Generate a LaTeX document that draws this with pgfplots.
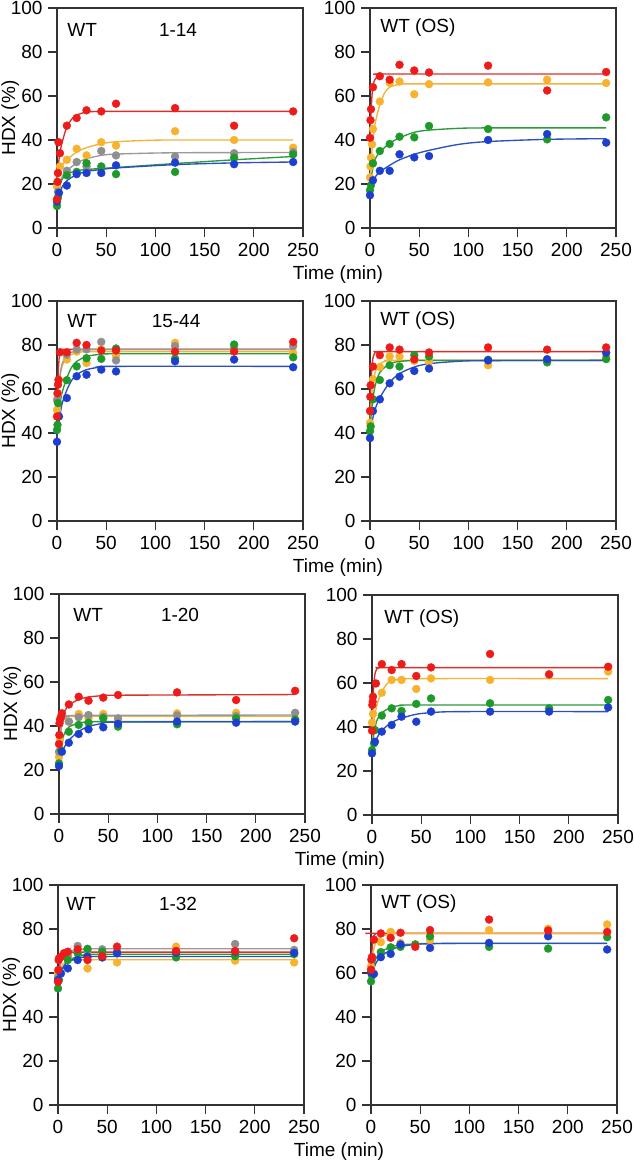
\documentclass[border=0pt]{standalone}
\usepackage{fontspec}
\setmainfont{Liberation Sans}
\usepackage{pgfplots}
\pgfplotsset{compat=1.18}

\definecolor{cR}{HTML}{EE1B1B}
\definecolor{cO}{HTML}{F7B22E}
\definecolor{cG}{HTML}{8F8F8F}
\definecolor{cGr}{HTML}{1E9A2B}
\definecolor{cB}{HTML}{1D3FCF}
\definecolor{lR}{HTML}{D8312B}
\definecolor{lO}{HTML}{F2B43A}
\definecolor{lG}{HTML}{9A9A9A}
\definecolor{lGr}{HTML}{2A9A3A}
\definecolor{lB}{HTML}{2D50C0}

\newcommand\fs{\fontsize{19}{22}\selectfont}

\pgfplotsset{
  hdx/.style={scale only axis, width=246pt, height=220pt,
    anchor=south west,
    xmin=0, xmax=250, ymin=0, ymax=100,
    xtick={0,50,...,250}, ytick={0,20,...,100},
    tick align=outside, tick pos=left, major tick length=9pt,
    axis line style={line width=1.1pt, black!80},
    every tick/.style={line width=1.1pt, black!80},
    tick label style={font=\fs},
    /pgf/number format/assume math mode=true,
    xticklabel style={yshift=-3pt}, yticklabel style={xshift=-2pt},
    clip=false},
  hdxleft/.style={hdx, ylabel={HDX (\%)},
    ylabel style={font=\fs, at={(rel axis cs:-0.19,0.5)}, anchor=center, rotate=0},
    xlabel={Time (min)},
    xlabel style={font=\fs, at={(rel axis cs:1.142,-0.155)}, anchor=north}},
  dots/.style={only marks, mark=*, mark size=4pt, color=#1,
    mark options={solid, draw=#1, fill=#1, line width=0.3pt}},
  fit/.style={no markers, smooth, tension=0.5, line width=1.35pt, color=#1},
}

\begin{document}
\begin{tikzpicture}
\useasboundingbox (0,0) rectangle (633pt,-1167pt);

% ---------------- Row 1 left: WT 1-14
\begin{axis}[hdxleft, at={(57pt,-228pt)}]
\addplot[fit=lR] coordinates {(0,20) (1,27) (2,31) (3,34) (5,38.5) (10,46) (15,49.5) (20,51.3) (30,52.7) (45,53) (60,53) (240,53)};
\addplot[fit=lO] coordinates {(0,22) (2,26) (5,28.5) (10,31) (20,34.5) (30,36.5) (45,38.3) (60,39.2) (90,39.8) (120,40) (240,40)};
\addplot[fit=lG] coordinates {(0,13) (2,19) (5,23) (10,26) (20,29.5) (30,31.5) (45,33) (60,33.6) (120,34.2) (240,34.3)};
\addplot[fit=lGr] coordinates {(0,10) (2,17) (5,22) (10,24.5) (20,26) (30,26.6) (60,27.5) (120,29.3) (180,31) (240,32.5)};
\addplot[fit=lB] coordinates {(0,12) (2,15) (5,18.5) (10,21.5) (20,24.3) (30,25.7) (45,26.6) (60,27.3) (120,28.8) (180,29.6) (240,30)};
\addplot[dots=cO] coordinates {(0,19) (1,25) (3,28) (10,31) (20,36) (30,33) (45,39) (60,37.5) (120,44) (180,40) (240,36.5)};
\addplot[dots=cG] coordinates {(0,13) (1,16.5) (10,26) (20,30) (30,28) (45,35) (60,33) (120,32.5) (180,34) (240,34.5)};
\addplot[dots=cGr] coordinates {(0,10) (1,14) (10,24) (20,25.5) (30,29.5) (45,28) (60,24.5) (120,25.5) (180,32) (240,33.5)};
\addplot[dots=cB] coordinates {(0,12) (2,16) (10,19.3) (20,24.5) (30,25) (45,25) (60,28.5) (120,29.7) (180,29) (240,30)};
\addplot[dots=cR] coordinates {(0,13) (0.5,21) (1,25) (1.5,39) (3,34) (10,46.5) (20,50) (30,53.5) (45,53) (60,56.5) (120,54.5) (180,46.5) (240,53)};
\node[font=\fs, anchor=west] at (axis cs:7,90) {WT};
\node[font=\fs] at (axis cs:123,90) {1-14};
\end{axis}

% ---------------- Row 1 right: WT (OS)
\begin{axis}[hdx, at={(370pt,-228pt)}]
\addplot[fit=lR] coordinates {(0,40) (1,52) (2,60) (3,64.5) (5,67.5) (10,69.6) (20,70) (240,70)};
\addplot[fit=lO] coordinates {(0,22) (2,35) (5,47) (10,56) (15,61.5) (20,64) (30,65.3) (45,65.5) (240,65.5)};
\addplot[fit=lGr] coordinates {(0,17) (2,25) (5,31) (10,34.5) (20,38.5) (30,41) (45,43.5) (60,44.5) (90,45.3) (120,45.5) (240,45.5)};
\addplot[fit=lB] coordinates {(0,15) (2,20) (5,23) (10,25.5) (20,28.5) (30,31) (45,33.5) (60,35.3) (90,38) (120,39.3) (180,40.3) (240,40.6)};
\addplot[dots=cO] coordinates {(0,23) (0.5,28) (1,32) (2,38) (3,45) (10,57.5) (20,66) (30,66.6) (45,60.8) (60,65.4) (120,66.2) (180,67.4) (240,65.9)};
\addplot[dots=cGr] coordinates {(0,17.2) (1,19.5) (3,29.4) (10,35) (20,38.2) (30,41.5) (45,41.2) (60,46.4) (120,45) (180,40.3) (240,50.3)};
\addplot[dots=cB] coordinates {(0,14.9) (3,21.7) (10,26) (20,26) (30,33.5) (45,32.1) (60,32.7) (120,40) (180,42.7) (240,38.8)};
\addplot[dots=cR] coordinates {(0,41) (0.5,49) (1,54) (3,64) (10,69) (20,67.4) (30,74.2) (45,71.6) (60,70.7) (120,73.8) (180,62.5) (240,70.9)};
\node[font=\fs, anchor=west] at (axis cs:7,91) {WT (OS)};
\end{axis}

% ---------------- Row 2 left: WT 15-44
\begin{axis}[hdxleft, at={(57pt,-521pt)}]
\addplot[fit=lR] coordinates {(0,47) (0.5,58) (1,65) (2,73) (3,76.5) (5,77.8) (10,78) (20,78) (240,78)};
\addplot[fit=lO] coordinates {(0,50) (2,62) (5,70) (10,74.5) (20,76.5) (30,77) (45,77) (240,77)};
\addplot[fit=lG] coordinates {(0,52) (2,63) (5,71) (10,75.5) (20,77.5) (30,78) (45,78) (240,78)};
\addplot[fit=lGr] coordinates {(0,42) (2,50) (5,58) (10,65) (15,70) (20,72.5) (30,74.8) (45,75.8) (60,76) (240,76)};
\addplot[fit=lB] coordinates {(0,38) (2,45) (5,53) (10,59.5) (15,64) (20,66.5) (30,68.8) (45,70) (60,70.3) (240,70.3)};
\addplot[dots=cO] coordinates {(0,50.5) (1,58) (2,64) (10,73.4) (20,77) (30,71.8) (45,78) (60,75) (120,81) (180,78) (240,76.4)};
\addplot[dots=cG] coordinates {(0,55) (10,75.6) (20,78) (30,78) (45,81.4) (60,73) (120,79.5) (180,78.5) (240,79.5)};
\addplot[dots=cGr] coordinates {(0,41.4) (0.5,43.7) (1,53.6) (10,64) (20,70.3) (30,74) (45,73.7) (60,78.4) (120,73.8) (180,80.2) (240,74.4)};
\addplot[dots=cB] coordinates {(0,36) (2,47.5) (10,55.9) (20,65.8) (30,66.5) (45,68.8) (60,68) (120,72.6) (180,73.4) (240,69.9)};
\addplot[dots=cR] coordinates {(0,47.5) (0.5,58) (1,62) (1.5,64.2) (3,76.7) (10,76.7) (20,81) (30,80) (45,77.5) (60,77.5) (120,77) (180,77) (240,81.4)};
\node[font=\fs, anchor=west] at (axis cs:7,91) {WT};
\node[font=\fs] at (axis cs:121,91) {15-44};
\end{axis}

% ---------------- Row 2 right: WT (OS)
\begin{axis}[hdx, at={(370pt,-521pt)}]
\addplot[fit=lR] coordinates {(0,48) (1,62) (2,70) (3,74) (5,76.5) (10,77) (20,77) (240,77)};
\addplot[fit=lO] coordinates {(0,45) (2,58) (5,67) (10,71.5) (20,73) (30,73) (240,73)};
\addplot[fit=lGr] coordinates {(0,42) (2,52) (5,61) (10,67.5) (20,71.5) (30,72.5) (45,73) (60,73) (240,73)};
\addplot[fit=lB] coordinates {(0,40) (2,45) (5,50.5) (10,56) (20,63) (30,67) (45,70) (60,71.5) (90,72.6) (120,72.9) (240,73)};
\addplot[dots=cO] coordinates {(0,44.6) (0.7,50) (3,64.4) (10,70) (20,74.8) (30,74.8) (45,72.8) (60,72.4) (120,70.8) (180,73.6) (240,74.8)};
\addplot[dots=cGr] coordinates {(0,40.8) (0.7,43) (3,55.3) (10,64.1) (20,70.8) (30,70.2) (45,75.4) (60,74.8) (120,73.3) (180,72.1) (240,73.6)};
\addplot[dots=cB] coordinates {(0,37.7) (3,50) (10,55.3) (20,62.6) (30,65.6) (45,68.2) (60,69.3) (120,73) (180,73.5) (240,76.5)};
\addplot[dots=cR] coordinates {(0,50) (0.3,56.5) (0.7,61.7) (3,70.2) (10,75.4) (20,78.9) (30,77.9) (45,73.5) (60,76.6) (120,78.9) (180,77.9) (240,78.9)};
\node[font=\fs, anchor=west] at (axis cs:7,91) {WT (OS)};
\end{axis}

% ---------------- Row 3 left: WT 1-20
\begin{axis}[hdxleft, at={(59pt,-814pt)}]
\addplot[fit=lR] coordinates {(0,30) (1,39) (2,42.5) (5,46) (10,49.5) (20,52) (30,53.2) (45,53.8) (60,54) (240,54.3)};
\addplot[fit=lO] coordinates {(0,25) (2,37) (3,40.5) (5,43.3) (7,44.2) (10,44.5) (20,44.5) (240,44.5)};
\addplot[fit=lG] coordinates {(0,28) (2,38) (5,43) (10,44.5) (20,44.8) (240,45)};
\addplot[fit=lGr] coordinates {(0,23) (2,30) (5,36) (10,39.5) (20,41.3) (30,42) (45,42) (240,42)};
\addplot[fit=lB] coordinates {(0,22) (2,26) (5,30) (10,33.5) (20,37.5) (30,39.8) (45,41.2) (60,41.8) (240,42)};
\addplot[dots=cO] coordinates {(0,26) (1,33.6) (10,42) (20,45.5) (30,43.5) (45,45.5) (60,43) (120,45.8) (180,46) (240,42.4)};
\addplot[dots=cG] coordinates {(0,28.3) (10,42) (20,44) (30,45) (45,44.2) (60,43.5) (120,44.8) (180,44.5) (240,46)};
\addplot[dots=cGr] coordinates {(0,23) (2,29) (10,37.4) (20,40.5) (30,41.5) (45,43.5) (60,39.7) (120,40.8) (180,43.5) (240,43)};
\addplot[dots=cB] coordinates {(0,21.8) (3,28.3) (10,32.4) (20,36.4) (30,38.5) (45,39.4) (60,41) (120,42) (180,41.5) (240,42)};
\addplot[dots=cR] coordinates {(0,31.8) (0.3,35.9) (0.5,41.2) (1,43) (2,44.2) (3,45.8) (10,49.8) (20,53.3) (30,51.5) (45,52.9) (60,54.1) (120,55.3) (180,51.8) (240,56)};
\node[font=\fs, anchor=west] at (axis cs:11,90.5) {WT};
\node[font=\fs] at (axis cs:123,90.5) {1-20};
\end{axis}

% ---------------- Row 3 right: WT (OS)
\begin{axis}[hdx, at={(372pt,-815pt)}]
\addplot[fit=lR] coordinates {(0,38) (1,52) (2,60) (3,64) (5,66.5) (10,67) (20,67) (240,67)};
\addplot[fit=lO] coordinates {(0,30) (2,42) (5,50) (10,56) (15,59.5) (20,61) (30,61.7) (45,62) (240,62)};
\addplot[fit=lGr] coordinates {(0,30) (2,37) (5,43) (10,46.5) (20,49) (30,49.8) (45,50) (240,50)};
\addplot[fit=lB] coordinates {(0,28) (2,31) (5,35) (10,38.5) (20,42) (30,44) (45,45.8) (60,46.5) (90,47) (240,47)};
\addplot[dots=cO] coordinates {(0,42) (1,46) (10,55.6) (20,61.4) (30,61.4) (45,57.3) (60,62.1) (120,61.4) (180,64) (240,65.2)};
\addplot[dots=cGr] coordinates {(0,29.5) (2,32.6) (3,38.6) (10,45.2) (20,48.5) (30,47.3) (45,50.5) (60,53) (120,50.8) (180,48.5) (240,52.3)};
\addplot[dots=cB] coordinates {(0,28) (3,33.3) (10,37.9) (20,40.9) (30,44.7) (45,42.4) (60,47) (120,47) (180,47) (240,48.9)};
\addplot[dots=cR] coordinates {(0,38.3) (0.3,50) (0.7,51.5) (1,53.8) (4,59.8) (10,68.6) (20,65.9) (30,68.6) (45,63.2) (60,67.1) (120,73.2) (180,63.9) (240,67.4)};
\node[font=\fs, anchor=west] at (axis cs:9,89.5) {WT (OS)};
\end{axis}

% ---------------- Row 4 left: WT 1-32
\begin{axis}[hdxleft, at={(58pt,-1105pt)}]
\addplot[fit=lR] coordinates {(0,55) (2,64) (5,67.5) (10,69) (20,69.5) (30,69.5) (240,69.5)};
\addplot[fit=lO] coordinates {(0,55) (2,61) (5,64) (10,65.5) (20,66) (30,66) (240,66)};
\addplot[fit=lG] coordinates {(0,56) (2,63) (5,67) (10,69.5) (20,70.5) (30,71) (45,71) (240,71)};
\addplot[fit=lGr] coordinates {(0,53) (2,57) (5,62) (10,65.5) (20,67.5) (30,68.2) (45,68.5) (240,68.5)};
\addplot[fit=lB] coordinates {(0,56) (2,59.5) (5,62.5) (10,65) (20,66.8) (30,67.3) (45,67.5) (240,67.5)};
\addplot[dots=cO] coordinates {(0,60) (10,67) (20,69) (30,62.1) (45,67) (60,64.8) (120,72) (180,65.6) (240,64.8)};
\addplot[dots=cG] coordinates {(0,58) (10,68) (20,72.3) (30,70) (45,70.8) (60,70) (120,70) (180,73.2) (240,70.5)};
\addplot[dots=cGr] coordinates {(0,53) (1,56.8) (10,65.9) (20,69) (30,71) (45,69.7) (60,69) (120,67.1) (180,67.7) (240,68.6)};
\addplot[dots=cB] coordinates {(0,56.8) (3,59.8) (10,62.1) (20,65.9) (30,67.4) (45,67.1) (60,69) (120,69.2) (180,69.7) (240,69.2)};
\addplot[dots=cR] coordinates {(0,56) (0.3,61.4) (0.7,65.9) (1,66.7) (3,67.4) (6,69) (10,69.7) (20,70.8) (30,65.9) (45,67.7) (60,72) (120,70) (180,70) (240,75.8)};
\node[font=\fs, anchor=west] at (axis cs:5,91.5) {WT};
\node[font=\fs] at (axis cs:122,91.5) {1-32};
\end{axis}

% ---------------- Row 4 right: WT (OS)
\begin{axis}[hdx, at={(371pt,-1105pt)}]
\addplot[fit=lR] coordinates {(0,60) (1,70) (2,75) (3,77) (5,78) (10,78) (240,78)};
\addplot[fit=lO] coordinates {(0,60) (2,69) (5,74) (10,76.5) (20,77.7) (30,78) (45,78) (240,78)};
\addplot[fit=lGr] coordinates {(0,57) (2,62) (5,66.5) (10,69.5) (20,71.8) (30,72.8) (45,73.2) (60,73.4) (240,73.4)};
\addplot[fit=lB] coordinates {(0,58) (2,61) (5,64.5) (10,67.5) (20,70.5) (30,72) (45,73) (60,73.3) (90,73.5) (240,73.5)};
\addplot[dots=cO] coordinates {(0,63) (10,74) (20,78.7) (30,73.7) (45,73) (60,74.9) (120,79.5) (180,80.1) (240,82.1)};
\addplot[dots=cGr] coordinates {(0,56.2) (1,58.8) (10,69.5) (20,71.7) (30,71.9) (45,73) (60,76.7) (120,71.9) (180,71.1) (240,76.3)};
\addplot[dots=cB] coordinates {(0,60.3) (3,59.6) (10,67.2) (20,68.7) (30,73) (60,71.4) (120,73.7) (180,76.7) (240,70.7)};
\addplot[dots=cR] coordinates {(0,61.5) (0.3,66.1) (1,67.3) (3,75.2) (10,78) (20,76) (30,78.3) (45,71.9) (60,79.5) (120,84.3) (180,79.3) (240,78.7)};
\node[font=\fs, anchor=west] at (axis cs:7,91.5) {WT (OS)};
\end{axis}
\end{tikzpicture}
\end{document}
